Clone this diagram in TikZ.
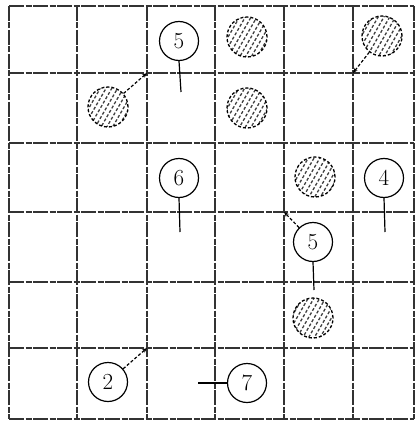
\documentclass[tikz,border=0pt]{standalone}
\usetikzlibrary{arrows.meta,patterns.meta}
\tikzset{
  gridline/.style={line width=1.4pt, black!80, dash pattern=on 15pt off 1.5pt on 6pt off 1.5pt},
  stone/.style={circle, draw, line width=1.2pt, minimum size=39pt, inner sep=0pt,
    font=\fontsize{23}{23}\selectfont},
  shaded/.style={circle, draw, line width=1.3pt, densely dashed, minimum size=40pt,
    inner sep=0pt, pattern={Lines[angle=60,distance=5pt,line width=1.3pt]}, pattern color=black!75},
  stem/.style={line width=1.2pt},
  pointer/.style={line width=1.2pt, densely dashed, -{Stealth[length=5pt,width=4pt]}},
}
\begin{document}
\begin{tikzpicture}[x=1pt, y=-1pt]
  \useasboundingbox (0,0) rectangle (417,422);

  % grid corners
  \foreach \gx [count=\i from 0] in {9,77,147,215,284,353,414}
    \foreach \gy [count=\j from 0] in {6,73,143,212,282,348,419}
      \coordinate (g\i\j) at (\gx,\gy);

  % the board
  \foreach \i in {0,...,6} {
    \draw[gridline] (g\i0) -- (g\i6);
    \draw[gridline] (g0\i) -- (g6\i);
  }

  % numbered stones
  \node[stone] (s5)  at (179,41)  {5};
  \node[stone] (s6)  at (179,178) {6};
  \node[stone] (s4)  at (384,178) {4};
  \node[stone] (s5b) at (313,242) {5};
  \node[stone] (s2)  at (108,382) {2};
  \node[stone] (s7)  at (247,383) {7};

  % hatched stones
  \node[shaded] (h1) at (247,37)  {};
  \node[shaded] (h2) at (382,36)  {};
  \node[shaded] (h3) at (108,107) {};
  \node[shaded] (h4) at (247,108) {};
  \node[shaded] (h5) at (315,177) {};
  \node[shaded] (h6) at (313,318) {};

  % stems across the lines
  \coordinate (t5)  at (181,92);
  \coordinate (t6)  at (180,232);
  \coordinate (t4)  at (385,232);
  \coordinate (t5b) at (314,290);
  \coordinate (t7)  at (198,383);
  \draw[stem] (s5.south)  -- (t5);
  \draw[stem] (s6.south)  -- (t6);
  \draw[stem] (s4.south)  -- (t4);
  \draw[stem] (s5b.south) -- (t5b);
  \draw[stem] (s7.west)   -- (t7);

  % pointers to the corners
  \draw[pointer] (h3) -- (g21);
  \draw[pointer] (h2) -- (g51);
  \draw[pointer] (s5b) -- (g43);
  \draw[pointer] (s2) -- (g25);
\end{tikzpicture}
\end{document}
